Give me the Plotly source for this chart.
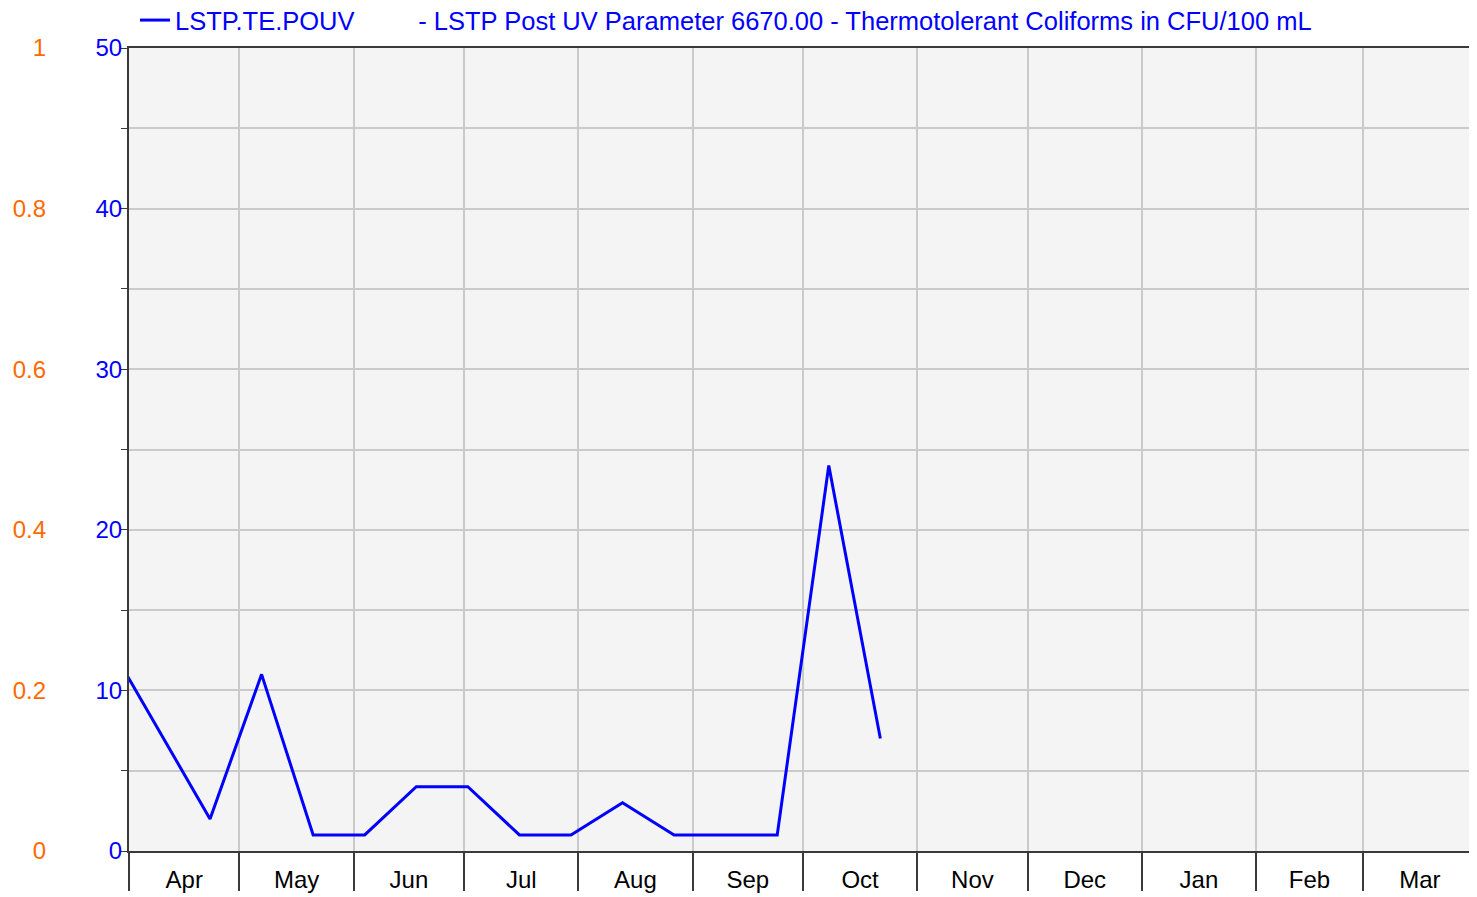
import plotly.graph_objects as go

# Data
dates = ["2023-03-26", "2023-04-23", "2023-05-07", "2023-05-21", "2023-06-04", "2023-06-18",
         "2023-07-02", "2023-07-16", "2023-07-30", "2023-08-13", "2023-08-27", "2023-09-10",
         "2023-09-24", "2023-10-08", "2023-10-22"]
values = [13.1, 2, 11, 1, 1, 4, 4, 1, 1, 3, 1, 1, 1, 24, 7]
series_name = "LSTP.TE.POUV" + "\u00a0" * 9 + "- LSTP Post UV Parameter 6670.00 - Thermotolerant Coliforms in CFU/100 mL"
x_range = ["2023-04-01", "2024-04-01"]
y_range = [0, 50]
y2_range = [0, 1]

BLUE = "#0000ff"
ORANGE = "#ff6a00"
GRID = "#cacaca"
AXIS = "#3a3a3a"
FONT = "Liberation Sans, Arial, sans-serif"

fig = go.Figure()
fig.add_trace(go.Scatter(x=dates, y=values, mode="lines", name=series_name,
                         line=dict(color=BLUE, width=3), showlegend=True))
fig.add_trace(go.Scatter(x=[None], y=[None], yaxis="y2", showlegend=False, hoverinfo="skip"))

W, H = 1477, 897
# page is offset by the browser's 8px body margin; lay out in figure coordinates
left, right = 121, 1469
top, bottom = 40, 843
plot_h = bottom - top
fig.update_layout(
    width=W, height=H,
    margin=dict(l=0, r=0, t=top, b=H - bottom, autoexpand=False),
    paper_bgcolor="white", plot_bgcolor="#f4f4f4",
    font=dict(family=FONT, size=24, color="black"),
    showlegend=True,
    legend=dict(orientation="h", x=127 / W, xanchor="left",
                y=1 + (top + 11) / plot_h, yanchor="top", yref="paper",
                font=dict(size=25.5, color=BLUE, family=FONT),
                bgcolor="rgba(0,0,0,0)", itemwidth=30),
    xaxis=dict(domain=[left / W, right / W], type="date", range=x_range,
               dtick="M1", tick0="2023-04-01", tickformat="%b", ticklabelmode="period",
               ticks="outside", ticklen=38, tickcolor=AXIS, tickwidth=2,
               showgrid=True, gridcolor=GRID, gridwidth=1.5,
               showline=True, linecolor=AXIS, linewidth=2,
               mirror=True, tickfont=dict(size=24, color="black"), ticklabelstandoff=-32),
    yaxis=dict(range=y_range, dtick=10, ticks="outside", ticklen=6, tickcolor=AXIS,
               showgrid=True, gridcolor=GRID, gridwidth=1.5, zeroline=False,
               showline=True, linecolor=AXIS, linewidth=2, mirror=True,
               tickfont=dict(size=24, color=BLUE), ticklabelstandoff=-6,
               minor=dict(dtick=5, ticks="outside", ticklen=6, tickcolor=AXIS,
                          showgrid=True, gridcolor=GRID, gridwidth=1.5)),
    yaxis2=dict(range=y2_range, dtick=0.2, overlaying="y", side="left", anchor="free",
                position=38 / W, showgrid=False, zeroline=False, showline=False, ticks="",
                tickfont=dict(size=24, color=ORANGE)),
)

fig.write_html("out.html")
